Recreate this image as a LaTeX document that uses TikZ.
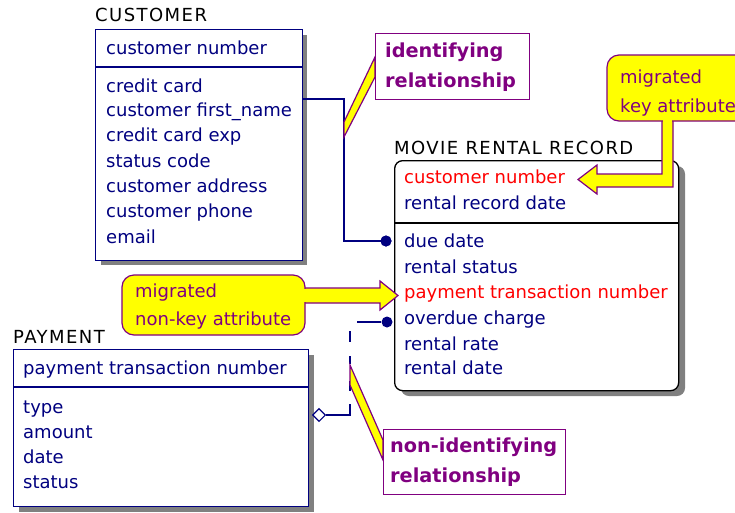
\documentclass[tikz,border=0pt]{standalone}
\usepackage{fontspec}
\setmainfont{DejaVu Sans}
\usetikzlibrary{shapes.geometric}
\definecolor{navy}{RGB}{0,0,128}
\definecolor{mypurple}{RGB}{128,0,128}
\definecolor{myyellow}{RGB}{255,255,0}
\tikzset{
  ent/.style={draw=navy, line width=1.3pt, fill=white, inner sep=0pt, anchor=north west},
  mrrbox/.style={draw=black, line width=1.3pt, fill=white, rounded corners=8pt, inner sep=0pt, anchor=north west},
  shd/.style={fill=black!50},
  row/.style={anchor=base west, inner sep=0pt, text=navy, font=\fontsize{18}{20}\selectfont},
  keyrow/.style={row, text=red},
  ttl/.style={anchor=base west, inner sep=0pt, text=black, font=\fontsize{18}{20}\selectfont\addfontfeatures{LetterSpace=8}},
  rel/.style={draw=navy, line width=1.3pt},
  dotn/.style={circle, fill=navy, inner sep=0pt, minimum size=11pt},
  dia/.style={diamond, draw=navy, line width=1.1pt, fill=white, inner sep=0pt, minimum width=13pt, minimum height=13pt},
  notebox/.style={draw=mypurple, line width=1.2pt, fill=white},
  notetxt/.style={anchor=base west, inner sep=0pt, text=mypurple, font=\fontsize{19.3}{20}\selectfont\bfseries},
  calloutshape/.style={draw=mypurple, line width=1.2pt, fill=myyellow},
  callouttxt/.style={anchor=base west, inner sep=0pt, text=mypurple, font=\fontsize{18}{20}\selectfont},
}
\begin{document}
\begin{tikzpicture}[x=1pt,y=-1pt]
\clip (0,0) rectangle (735,512);
\fill[white] (0,0) rectangle (735,512);

% ---------- CUSTOMER ----------
\node[ttl] (custT) at (95,21) {CUSTOMER};
\fill[shd] (101,35) rectangle (307,265);
\node[ent, minimum width=207pt, minimum height=231pt] (cust) at (95,29) {};
\draw[navy, line width=1.3pt] (95,67) -- (302,67);
\node[row] (c1) at (106,54) {customer number};
\node[row] (c2) at (106,92) {credit card};
\node[row] (c3) at (106,116) {customer first\_name};
\node[row] (c4) at (106,141) {credit card exp};
\node[row] (c5) at (106,167) {status code};
\node[row] (c6) at (106,192) {customer address};
\node[row] (c7) at (106,217) {customer phone};
\node[row] (c8) at (106,243) {email};

% ---------- MOVIE RENTAL RECORD ----------
\node[ttl] (mrrT) at (394,154) {MOVIE RENTAL RECORD};
\fill[shd, rounded corners=8pt] (401,166) rectangle (685,396);
\node[mrrbox, minimum width=284pt, minimum height=230pt] (mrr) at (394,160) {};
\draw[black, line width=1.3pt] (394,223) -- (678,223);
\node[keyrow] (m1) at (404,183) {customer number};
\node[row] (m2) at (404,209) {rental record date};
\node[row] (m3) at (404,247) {due date};
\node[row] (m4) at (404,273) {rental status};
\node[keyrow] (m5) at (404,298) {payment transaction number};
\node[row] (m6) at (404,324) {overdue charge};
\node[row] (m7) at (404,350) {rental rate};
\node[row] (m8) at (404,374) {rental date};

% ---------- PAYMENT ----------
\node[ttl] (payT) at (13,343) {PAYMENT};
\fill[shd] (19,355) rectangle (314,512);
\node[ent, minimum width=295pt, minimum height=157pt] (pay) at (13,349) {};
\draw[navy, line width=1.3pt] (13,387) -- (308,387);
\node[row] (p1) at (23,374) {payment transaction number};
\node[row] (p2) at (23,413) {type};
\node[row] (p3) at (23,438) {amount};
\node[row] (p4) at (23,463) {date};
\node[row] (p5) at (23,488) {status};

% ---------- identifying relationship ----------
\coordinate (custR) at (302,99);
\node[dotn] (d1) at (386,241) {};
\draw[rel] (custR) -- (344,99) -- (344,241) -- (d1.center);
\node[dotn] (d1b) at (386,241) {};

% ---------- non-identifying relationship ----------
\node[dia] (dm) at (319,415) {};
\node[dotn] (d2) at (387,322) {};
\draw[rel, dash pattern=on 35pt off 13pt on 10pt off 17pt on 8pt off 14pt on 11pt off 16pt on 25pt off 100pt]
  (dm.east) -- (350,415) -- (350,322) -- (d2.west);

% ---------- note: identifying relationship ----------
\draw[calloutshape] (344,122) -- (375,57) -- (375,77) -- (344,137) -- cycle;
\node[notebox, minimum width=154pt, minimum height=66pt, anchor=north west] (nid) at (375,33) {};
\node[notetxt] (nidA) at (385,57) {identifying};
\node[notetxt] (nidB) at (385,87) {relationship};

% ---------- note: non-identifying relationship ----------
\draw[calloutshape] (350,365) -- (383,440) -- (383,460) -- (350,385) -- cycle;
\node[notebox, minimum width=182pt, minimum height=65pt, anchor=north west] (nnid) at (383,429) {};
\node[notetxt] (nnidA) at (390,452) {non-identifying};
\node[notetxt] (nnidB) at (390,482) {relationship};

% ---------- callout: migrated key attribute ----------
\draw[calloutshape] (662,118) -- (662,174) -- (597,174) -- (597,165) -- (578,179.5) -- (597,194) -- (597,187) -- (673,187) -- (673,118) -- cycle;
\draw[calloutshape, rounded corners=12pt] (607,55) rectangle (760,121);
\fill[myyellow] (662.7,116) rectangle (672.3,124);
\node[callouttxt] (mkA) at (620,83) {migrated};
\node[callouttxt] (mkB) at (620,112) {key attribute};

% ---------- callout: migrated non-key attribute ----------
\draw[calloutshape] (300,288) -- (380,288) -- (380,281) -- (398,295.5) -- (380,310) -- (380,303) -- (300,303) -- cycle;
\draw[calloutshape, rounded corners=12pt] (122,275) rectangle (305,335);
\fill[myyellow] (302,288.7) rectangle (308,302.3);
\node[callouttxt] (mnA) at (135,297) {migrated};
\node[callouttxt] (mnB) at (135,325) {non-key attribute};
\end{tikzpicture}
\end{document}
